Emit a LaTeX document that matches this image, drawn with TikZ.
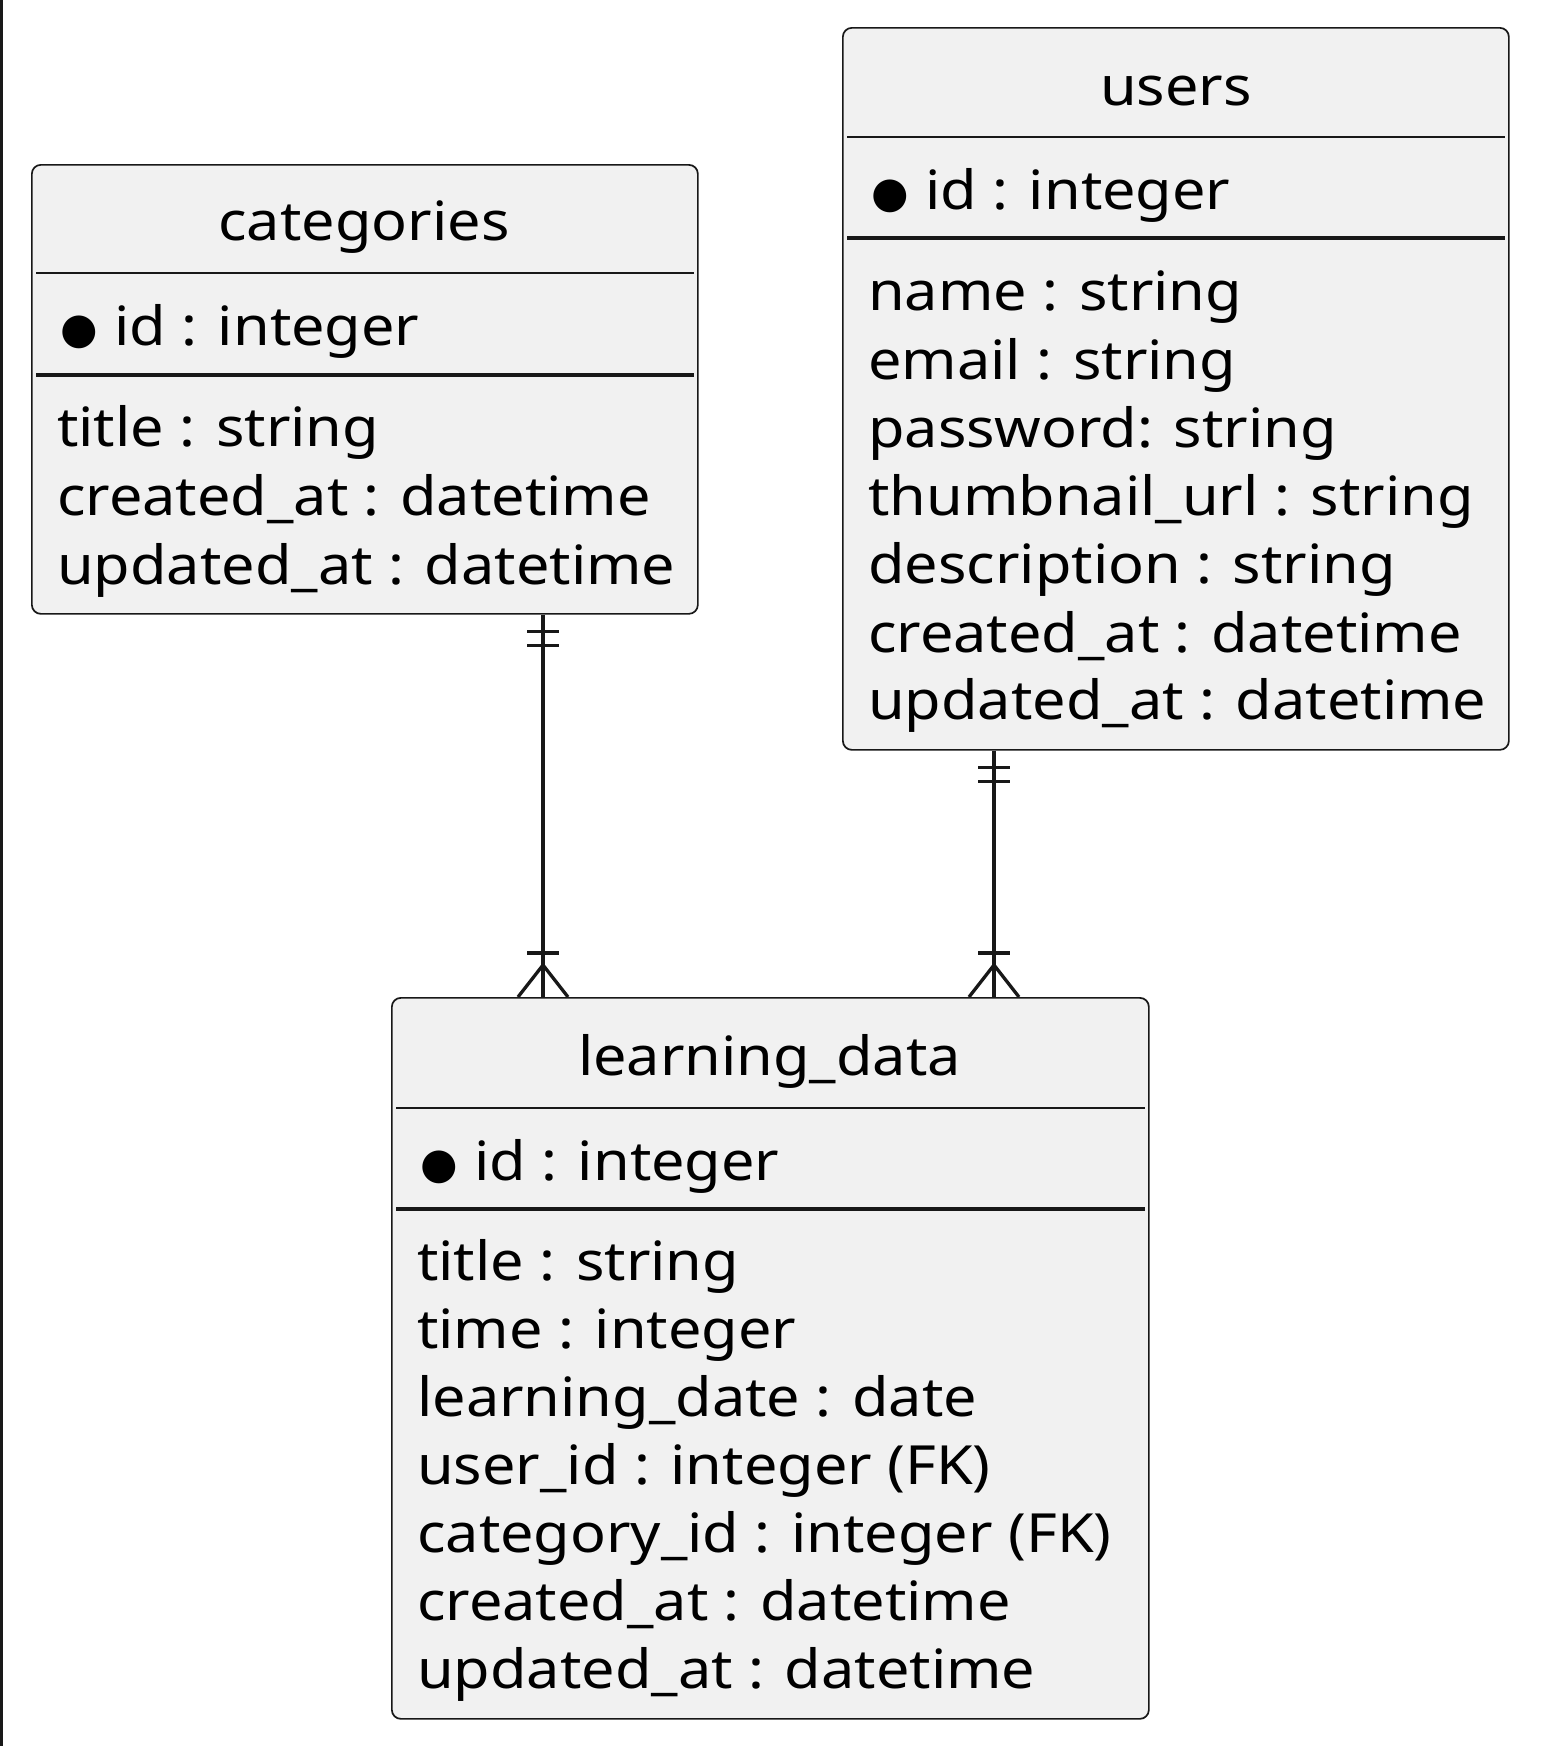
\documentclass[tikz,border=0pt]{standalone}
\usepackage{fontspec}
\setmainfont{Noto Sans}[FakeStretch=1.1]
\newfontfamily\symfont{DejaVu Sans}
\usetikzlibrary{calc}
\definecolor{boxfill}{HTML}{F1F1F1}
\definecolor{ink}{HTML}{181818}
\newcommand{\pk}[1]{\makebox[57pt][l]{\hspace*{3pt}\raisebox{1.5pt}{\symfont\fontsize{43}{43}\selectfont ●}}#1}
\begin{document}
\begin{tikzpicture}[x=1pt,y=-1pt,
  entity/.style={draw=ink, line width=1.7pt, fill=boxfill, rounded corners=9pt, inner sep=0pt, anchor=north west},
  txt/.style={anchor=base west, inner sep=0pt, font=\fontsize{54}{60}\selectfont},
  hdr/.style={anchor=base, inner sep=0pt, font=\fontsize{54}{60}\selectfont},
  thinsep/.style={draw=ink, line width=1.5pt},
  thicksep/.style={draw=ink, line width=3.4pt},
  conn/.style={draw=ink, line width=3.3pt}]
\fill[white] (0,0) rectangle (1540,1746);
\path[use as bounding box] (0,0) rectangle (1540,1746);
\draw[ink, line width=3pt] (1.5,0) -- (1.5,1746);

% categories
\node[entity, minimum width=666pt, minimum height=449pt] (cat) at (31,164) {};
\node[hdr] (cath) at (364,240) {categories};
\draw[thinsep] ([xshift=5pt]cat.west |- 0,273) -- ([xshift=-5pt]cat.east |- 0,273);
\node[txt] (catid) at (57,345) {\pk{id : integer}};
\draw[thicksep] ([xshift=5pt]cat.west |- 0,375) -- ([xshift=-5pt]cat.east |- 0,375);
\node[txt] (cat1) at (57,446) {title : string};
\node[txt] (cat2) at (57,515) {created\_at : datetime};
\node[txt] (cat3) at (57,584) {updated\_at : datetime};

% users
\node[entity, minimum width=666pt, minimum height=722pt] (usr) at (842,27) {};
\node[hdr] (usrh) at (1176,105) {users};
\draw[thinsep] ([xshift=5pt]usr.west |- 0,137) -- ([xshift=-5pt]usr.east |- 0,137);
\node[txt] (usrid) at (868,209) {\pk{id : integer}};
\draw[thicksep] ([xshift=5pt]usr.west |- 0,238) -- ([xshift=-5pt]usr.east |- 0,238);
\node[txt] (usr1) at (868,310) {name : string};
\node[txt] (usr2) at (868,379) {email : string};
\node[txt] (usr3) at (868,447) {password: string};
\node[txt] (usr4) at (868,515) {thumbnail\_url : string};
\node[txt] (usr5) at (868,583) {description : string};
\node[txt] (usr6) at (868,652) {created\_at : datetime};
\node[txt] (usr7) at (868,719) {updated\_at : datetime};

% learning_data
\node[entity, minimum width=757pt, minimum height=721pt] (ld) at (391,997) {};
\node[hdr] (ldh) at (769.5,1075) {learning\_data};
\draw[thinsep] ([xshift=5pt]ld.west |- 0,1108) -- ([xshift=-5pt]ld.east |- 0,1108);
\node[txt] (ldid) at (417,1180) {\pk{id : integer}};
\draw[thicksep] ([xshift=5pt]ld.west |- 0,1209) -- ([xshift=-5pt]ld.east |- 0,1209);
\node[txt] (ld1) at (417,1280) {title : string};
\node[txt] (ld2) at (417,1348) {time : integer};
\node[txt] (ld3) at (417,1416) {learning\_date : date};
\node[txt] (ld4) at (417,1484) {user\_id : integer (FK)};
\node[txt] (ld5) at (417,1552) {category\_id : integer (FK)};
\node[txt] (ld6) at (417,1620) {created\_at : datetime};
\node[txt] (ld7) at (417,1688) {updated\_at : datetime};

% connectors
\coordinate (xa) at (543,0);
\coordinate (xb) at (994,0);
\foreach \src/\xx in {cat/xa, usr/xb}{
  \draw[conn] (\src.south -| \xx) -- (ld.north -| \xx);
  \draw[conn] ($(\src.south -| \xx)+(-16,17)$) -- ++(32,0);
  \draw[conn] ($(\src.south -| \xx)+(-16,31)$) -- ++(32,0);
  \draw[conn] ($(ld.north -| \xx)+(-16,-44)$) -- ++(32,0);
  \draw[conn] ($(ld.north -| \xx)+(-25,0)$) -- ($(ld.north -| \xx)+(0,-32)$) -- ($(ld.north -| \xx)+(25,0)$);
}
\end{tikzpicture}
\end{document}
